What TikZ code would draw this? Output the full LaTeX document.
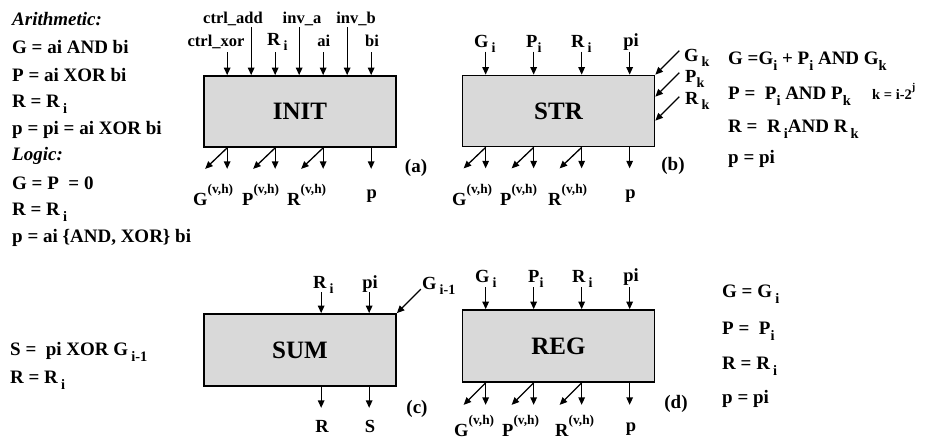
\documentclass[tikz,border=0pt]{standalone}
\usepackage{fontspec}
\usepackage{graphicx}
\setmainfont{Liberation Serif}
\usetikzlibrary{arrows.meta,calc}
\newcommand\lo[1]{\raisebox{-0.32em}{\scalebox{0.76}{#1}}}
\newcommand\hi[1]{\raisebox{0.62em}{\scalebox{0.72}{#1}}}
\begin{document}
\begin{tikzpicture}[x=1pt,y=-1pt,
  box/.style={draw,line width=1.7pt,fill=gray!30,minimum width=192pt,minimum height=71pt,inner sep=0pt,font=\fontsize{25}{25}\selectfont\bfseries},
  arr/.style={-{Triangle[length=7.5pt,width=6.5pt]},line width=1.3pt},
  eq/.style={anchor=base west,inner sep=0pt,font=\fontsize{19}{19}\selectfont\bfseries},
  sl/.style={anchor=base,inner sep=0pt,font=\fontsize{16.5}{16.5}\selectfont\bfseries},
  ml/.style={anchor=base west,inner sep=0pt,font=\fontsize{18.5}{18.5}\selectfont\bfseries},
  mc/.style={anchor=base,inner sep=0pt,font=\fontsize{18.5}{18.5}\selectfont\bfseries},
  tag/.style={anchor=base,inner sep=0pt,font=\fontsize{19}{19}\selectfont\bfseries}]
\useasboundingbox (0,0) rectangle (925,439);

% ---------- left equations ----------
\node[eq] (t1) at (12,25) {\itshape Arithmetic:};
\node[eq] (t2) at (12,53) {G = ai AND bi};
\node[eq] (t3) at (12,81) {P = ai XOR bi};
\node[eq] (t4) at (12,107) {R = R\,\lo{i}};
\node[eq] (t5) at (12,134) {p = pi = ai XOR bi};
\node[eq] (t6) at (12,160) {\itshape Logic:};
\node[eq] (t7) at (12,189) {G = P ~= 0};
\node[eq] (t8) at (12,215) {R = R\,\lo{i}};
\node[eq] (t9) at (12,242) {p = ai \{AND, XOR\} bi};

\node[eq] (s1) at (10,355) {S = ~pi XOR G\,\lo{i-1}};
\node[eq] (s2) at (10,383) {R = R\,\lo{i}};

% ---------- boxes ----------
\node[box] (init) at (300,111.5) {INIT};
\node[box] (str) at (558.5,111) {STR};
\node[box,minimum height=72pt] (sum) at (300,350) {SUM};
\node[box,minimum height=72pt] (reg) at (558.5,346) {REG};

% ---------- INIT ----------
\foreach \d/\n/\h in {24/1/23,48/2/48,72/3/23,96/4/48,120/5/23,144/6/48,168/7/23}{
  \coordinate (init-in\n) at ([xshift=\d pt]init.north west);
  \coordinate (init-src\n) at ([xshift=\d pt,yshift=\h pt]init.north west);
  \draw[arr] (init-src\n) -- (init-in\n);
}
\node[sl] (l-cadd) at (233,23) {ctrl\_add};
\node[sl] (l-inva) at (302,23) {inv\_a};
\node[sl] (l-invb) at (356,23) {inv\_b};
\node[sl] (l-cxor) at (216,46) {ctrl\_xor};
\node[ml] (l-ri) at (267,45) {R\,\lo{i}};
\node[sl] (l-ai) at (323.7,46) {ai};
\node[sl] (l-bi) at (372,46) {bi};

\foreach \d/\n in {24/1,72/2,120/3,168/4}{
  \coordinate (init-o\n) at ([xshift=\d pt]init.south west);
  \coordinate (init-v\n) at ([xshift=\d pt,yshift=-21pt]init.south west);
  \draw[arr] (init-o\n) -- (init-v\n);
}
\foreach \n in {1,2,3}{
  \coordinate (init-d\n) at ($(init-o\n)+(-22,21)$);
  \draw[arr] (init-o\n) -- (init-d\n);
}
\node[ml] (init-G) at (193,205) {G\hi{(v,h)}};
\node[ml] (init-P) at (242,205) {P\hi{(v,h)}};
\node[ml] (init-R) at (287,205) {R\hi{(v,h)}};
\node[mc] (init-p) at (371.7,198) {p};
\node[tag] (tag-a) at (416,172) {(a)};

% ---------- STR ----------
\foreach \d/\n in {24/1,72/2,120/3,168/4}{
  \coordinate (str-in\n) at ([xshift=\d pt]str.north west);
  \coordinate (str-src\n) at ([xshift=\d pt,yshift=23pt]str.north west);
  \draw[arr] (str-src\n) -- (str-in\n);
  \coordinate (str-o\n) at ([xshift=\d pt]str.south west);
  \coordinate (str-v\n) at ([xshift=\d pt,yshift=-21pt]str.south west);
  \draw[arr] (str-o\n) -- (str-v\n);
}
\foreach \n in {1,2,3}{
  \coordinate (str-d\n) at ($(str-o\n)+(-22,21)$);
  \draw[arr] (str-o\n) -- (str-d\n);
}
\node[ml] (str-Gi) at (474,47) {G\,\lo{i}};
\node[ml] (str-Pi) at (526,47) {P\lo{i}};
\node[ml] (str-Ri) at (571,47) {R\,\lo{i}};
\node[mc] (str-pi) at (631,46) {pi};

\coordinate (str-k1) at (str.north east);
\coordinate (str-k2) at ([yshift=-22pt]str.north east);
\coordinate (str-k3) at ([yshift=-46pt]str.north east);
\foreach \n in {1,2,3}{
  \coordinate (str-ks\n) at ($(str-k\n)+(24,-24)$);
  \draw[arr] (str-ks\n) -- (str-k\n);
}
\node[ml] (str-Gk) at (684,61) {G\,\lo{k}};
\node[ml] (str-Pk) at (685,82) {P\lo{k}};
\node[ml] (str-Rk) at (685,104) {R\,\lo{k}};

\node[ml] (str-G) at (452,205) {G\hi{(v,h)}};
\node[ml] (str-P) at (500,205) {P\hi{(v,h)}};
\node[ml] (str-R) at (548,205) {R\hi{(v,h)}};
\node[mc] (str-p) at (630.5,198) {p};
\node[tag] (tag-b) at (673,170) {(b)};

\node[eq] (e1) at (728,64) {G =G\lo{i} + P\lo{i} AND G\lo{k}};
\node[eq] (e2) at (728,99) {P = ~P\lo{i} AND P\lo{k}};
\node[eq,font=\fontsize{14.5}{14.5}\selectfont\bfseries] (e2k) at (872,99) {k = i-2\hi{j}};
\node[eq] (e3) at (728,132) {R = ~R\,\lo{i}AND R\,\lo{k}};
\node[eq] (e4) at (728,163) {p = pi};

% ---------- SUM ----------
\foreach \d/\n in {118/1,166/2}{
  \coordinate (sum-in\n) at ([xshift=\d pt]sum.north west);
  \coordinate (sum-src\n) at ([xshift=\d pt,yshift=21pt]sum.north west);
  \draw[arr] (sum-src\n) -- (sum-in\n);
  \coordinate (sum-o\n) at ([xshift=\d pt]sum.south west);
  \coordinate (sum-v\n) at ([xshift=\d pt,yshift=-21pt]sum.south west);
  \draw[arr] (sum-o\n) -- (sum-v\n);
}
\coordinate (sum-gs) at ($(sum.north east)+(24,-24)$);
\draw[arr] (sum-gs) -- (sum.north east);
\node[ml] (sum-Ri) at (313,288) {R\,\lo{i}};
\node[mc] (sum-pi) at (370,288) {pi};
\node[ml] (sum-G) at (422,289) {G\,\lo{i-1}};
\node[mc] (sum-R) at (322,432) {R};
\node[mc] (sum-S) at (370,432) {S};
\node[tag] (tag-c) at (417,413) {(c)};

% ---------- REG ----------
\foreach \d/\n in {24/1,72/2,120/3,168/4}{
  \coordinate (reg-in\n) at ([xshift=\d pt]reg.north west);
  \coordinate (reg-src\n) at ([xshift=\d pt,yshift=22pt]reg.north west);
  \draw[arr] (reg-src\n) -- (reg-in\n);
  \coordinate (reg-o\n) at ([xshift=\d pt]reg.south west);
  \coordinate (reg-v\n) at ([xshift=\d pt,yshift=-22pt]reg.south west);
  \draw[arr] (reg-o\n) -- (reg-v\n);
}
\foreach \n in {1,2,3}{
  \coordinate (reg-d\n) at ($(reg-o\n)+(-22,22)$);
  \draw[arr] (reg-o\n) -- (reg-d\n);
}
\node[ml] (reg-Gi) at (475,282) {G\,\lo{i}};
\node[ml] (reg-Pi) at (528,282) {P\lo{i}};
\node[ml] (reg-Ri) at (572,282) {R\,\lo{i}};
\node[mc] (reg-pi) at (631,281) {pi};
\node[ml] (reg-G) at (454,436) {G\hi{(v,h)}};
\node[ml] (reg-P) at (502,436) {P\hi{(v,h)}};
\node[ml] (reg-R) at (555,436) {R\hi{(v,h)}};
\node[mc] (reg-p) at (631,431) {p};
\node[tag] (tag-d) at (676,408) {(d)};

\node[eq] (f1) at (722,297) {G = G\,\lo{i}};
\node[eq] (f2) at (722,334) {P = ~P\lo{i}};
\node[eq] (f3) at (722,369) {R = R\,\lo{i}};
\node[eq] (f4) at (722,403) {p = pi};
\end{tikzpicture}
\end{document}
